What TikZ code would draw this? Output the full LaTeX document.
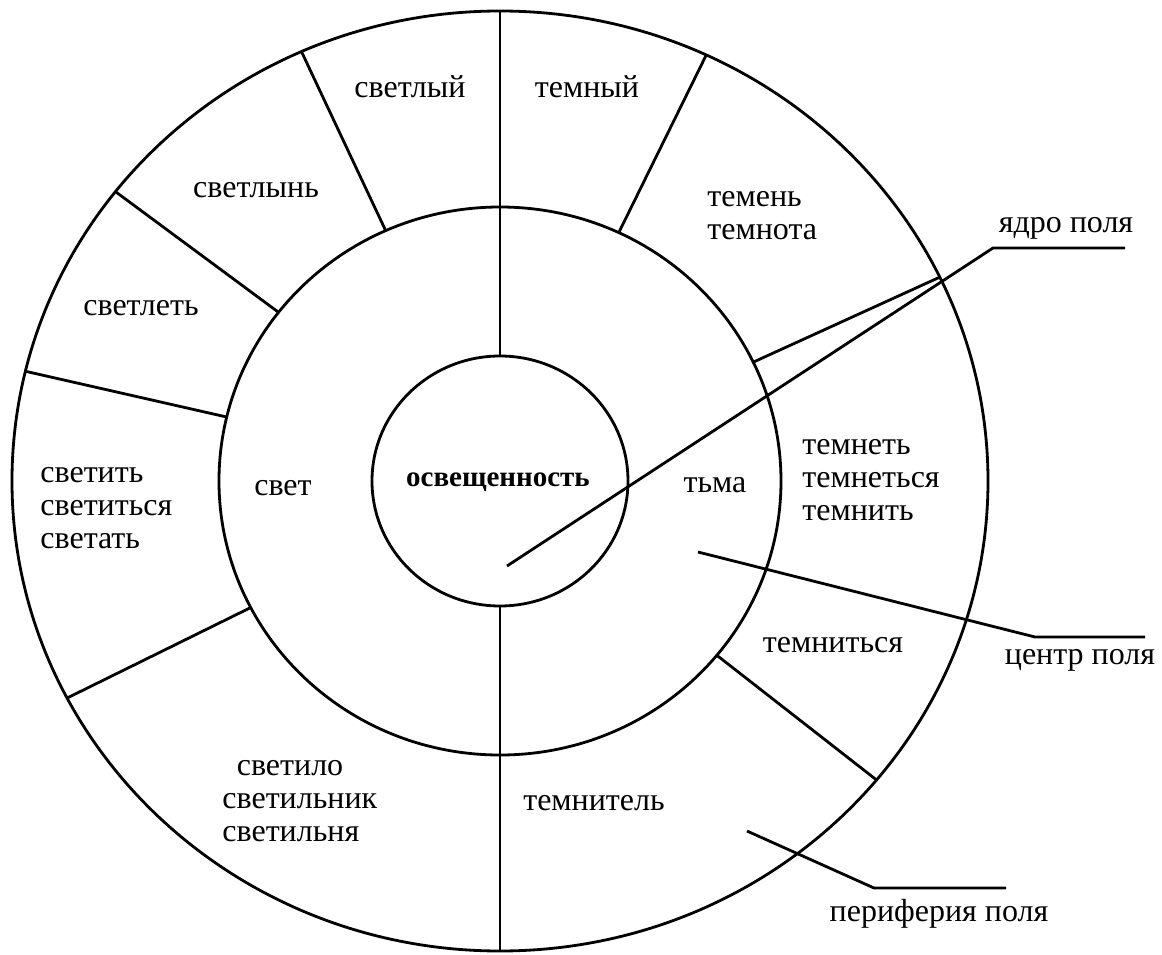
\documentclass[tikz,border=0pt]{standalone}
\usepackage{fontspec}
\setmainfont{Liberation Serif}
\usepackage{tikz}
\usetikzlibrary{positioning}

\begin{document}
\begin{tikzpicture}[x=0.5pt,y=0.5pt,
    every node/.style={font=\fontsize{16}{16.5}\selectfont,inner sep=0pt,align=left},
    ring/.style={line width=1.4pt},
    pointer/.style={line width=1.4pt}]
  \useasboundingbox (-500,-473) rectangle (662,481);
  % three rings: core, centre, periphery
  \draw[ring] (0,0) ellipse [x radius=128, y radius=125];
  \draw[ring] (0,0) ellipse [x radius=281, y radius=274];
  \draw[ring] (0,0) ellipse [x radius=488, y radius=470];
  % vertical split into light / dark halves
  \draw[ring] (90:128 and 125) -- (90:488 and 470);
  \draw[ring] (270:128 and 125) -- (270:488 and 470);
  % sectors of the outer ring
  \foreach \a in {114,142,166.5,207.5,320.5,25.7,65}
    \draw[ring] (\a:281 and 274) -- (\a:488 and 470);

  \node[font=\fontsize{14.5}{15}\selectfont\bfseries] (osv) at (-2,-1) {освещенность};
  \node (svet) at (-217,-7) {свет};
  \node (tma) at (215,-4) {тьма};

  \node (svetlyj) at (-90,394) {светлый};
  \node (temnyj) at (87,394) {темный};
  \node (svetlyn) at (-244,291) {светлынь};
  \node[anchor=west] (temen) at (207,265) {темень\\темнота};
  \node (svetlet) at (-359,173) {светлеть};
  \node[anchor=west] (svetit) at (-460,-27) {светить\\светиться\\светать};
  \node[anchor=west] (temnet) at (302,1) {темнеть\\темнеться\\темнить};
  \node (temnitsa) at (333,-164) {темниться};
  \node (temnitel) at (94,-322) {темнитель};
  \node[anchor=west] (svetilo) at (-278,-320) {\hspace*{0.45em}светило\\светильник\\светильня};

  % labels for the three zones
  \coordinate (yadro-a) at (7,-85);
  \coordinate (yadro-b) at (493,233);
  \coordinate (yadro-c) at (625,233);
  \draw[pointer] (yadro-a) -- (yadro-b) -- (yadro-c);
  \node (yadro) at (566,253) {ядро поля};

  \coordinate (centr-a) at (198,-71);
  \coordinate (centr-b) at (535,-156);
  \coordinate (centr-c) at (645,-156);
  \draw[pointer] (centr-a) -- (centr-b) -- (centr-c);
  \node (centr) at (580,-179) {центр поля};

  \coordinate (perif-a) at (247,-350);
  \coordinate (perif-b) at (374,-407);
  \coordinate (perif-c) at (506,-407);
  \draw[pointer] (perif-a) -- (perif-b) -- (perif-c);
  \node (perif) at (439,-433) {периферия поля};
\end{tikzpicture}
\end{document}
